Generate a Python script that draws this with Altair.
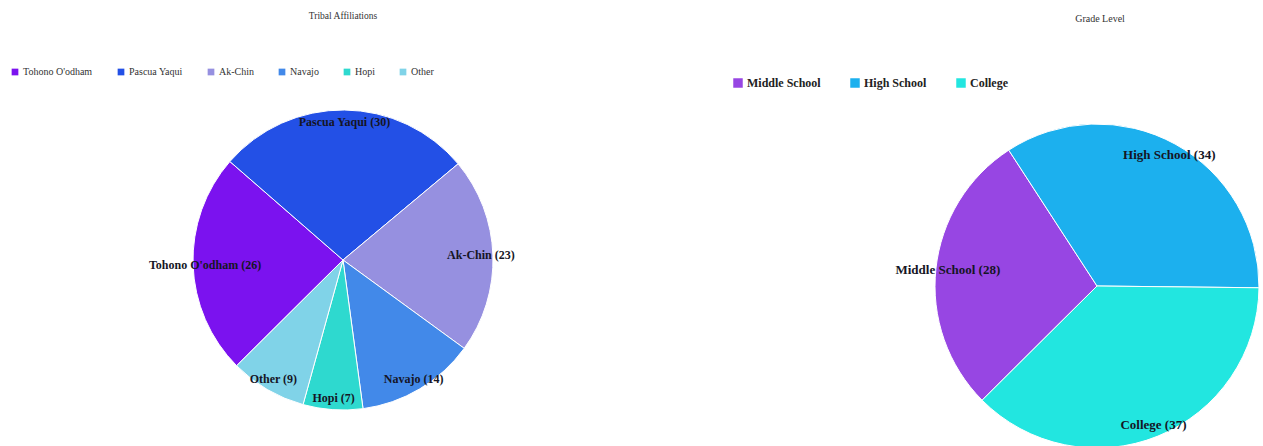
import altair as alt
import pandas as pd
import math

tribes = ["Tohono O'odham", "Pascua Yaqui", "Ak-Chin", "Navajo", "Hopi", "Other"]
tribe_counts = [26, 30, 23, 14, 7, 9]
tribe_colors = ["#7b12ef", "#2350e6", "#9690e0", "#4289e9", "#2ed9cf", "#80d3e8"]

grades = ["Middle School", "High School", "College"]
grade_counts = [28, 34, 37]
grade_colors = ["#9746e3", "#1cb0ee", "#22e6e0"]

start = 3.93
rng = [start, start + 2 * math.pi]

df1 = pd.DataFrame({"name": tribes, "value": tribe_counts, "idx": range(len(tribes))})
df1["label"] = [f"{n} ({v})" for n, v in zip(tribes, tribe_counts)]
df2 = pd.DataFrame({"name": grades, "value": grade_counts, "idx": range(len(grades))})
df2["label"] = [f"{n} ({v})" for n, v in zip(grades, grade_counts)]

SERIF = "Liberation Serif"

def pie(df, names, colors, cx, cy, r, lr, fs, legend):
    base = alt.Chart(df).encode(
        theta=alt.Theta("value:Q", stack=True, scale=alt.Scale(range=rng)),
        order=alt.Order("idx:Q"),
        x=alt.value(cx), y=alt.value(cy),
    )
    arc = base.mark_arc(outerRadius=r, stroke="white", strokeWidth=1).encode(
        color=alt.Color("name:N", sort=names,
                        scale=alt.Scale(domain=names, range=colors),
                        legend=legend)
    )
    txt = base.mark_text(radius=lr, font=SERIF, fontWeight="bold", fontSize=fs,
                         color="#151525", align="center", baseline="middle").encode(
        text="label:N"
    )
    return alt.layer(arc, txt)

leg1 = alt.Legend(orient="none", legendX=10, legendY=67, direction="horizontal",
                  title=None, symbolType="square", symbolSize=45, symbolStrokeWidth=0,
                  labelFont=SERIF, labelFontSize=10, labelColor="#333",
                  labelOffset=3, columnPadding=23, padding=0)
leg2 = alt.Legend(orient="none", legendX=732, legendY=77, direction="horizontal",
                  title=None, symbolType="square", symbolSize=90, symbolStrokeWidth=0,
                  labelFont=SERIF, labelFontSize=12, labelFontWeight="bold", labelColor="#222",
                  labelOffset=3, columnPadding=28, padding=0)

p1 = pie(df1, tribes, tribe_colors, 343, 260, 150, 138, 12, leg1)
p2 = pie(df2, grades, grade_colors, 1097, 286, 162, 150, 13, leg2)

t1 = alt.Chart(pd.DataFrame({"t": ["Tribal Affiliations"]})).mark_text(
    font=SERIF, fontSize=9.5, color="#333", align="center", baseline="middle"
).encode(text="t:N", x=alt.value(343), y=alt.value(16))
t2 = alt.Chart(pd.DataFrame({"t": ["Grade Level"]})).mark_text(
    font=SERIF, fontSize=10, color="#333", align="center", baseline="middle"
).encode(text="t:N", x=alt.value(1100), y=alt.value(19))

chart = alt.layer(p1, p2, t1, t2).resolve_scale(
    theta="independent", color="independent"
).properties(
    width=1263, height=446, autosize=alt.AutoSizeParams(type="none"), padding=0
).configure_view(stroke=None)

chart.save("out.html", embed_options={"renderer": "svg", "actions": False})
